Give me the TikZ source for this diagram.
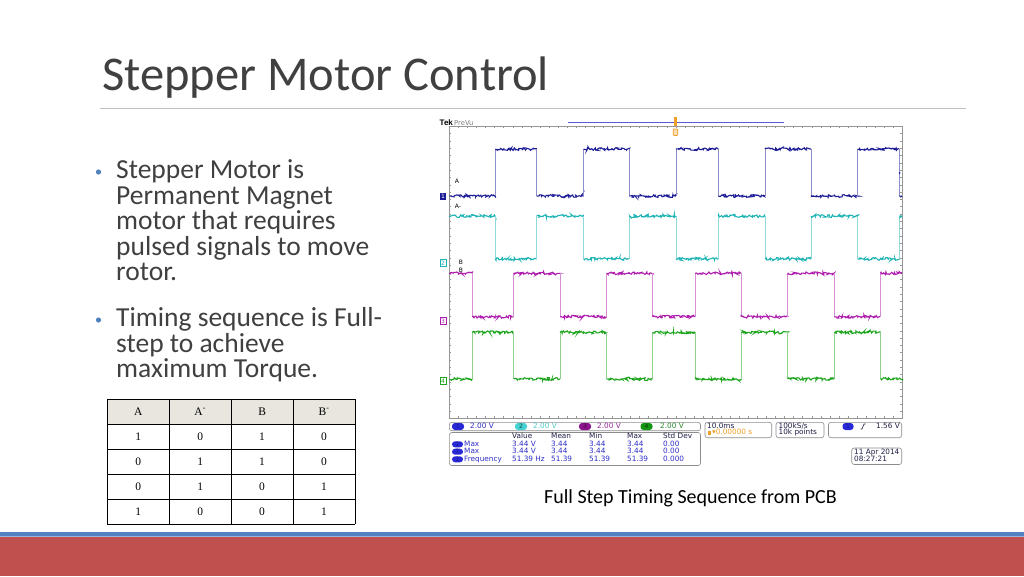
\documentclass[tikz,border=0pt]{standalone}
\usepackage{fontspec}
\setmainfont{Carlito}
\newfontfamily\tablefont{Liberation Serif}
\newfontfamily\scopefont{DejaVu Sans}
\newfontfamily\tekfont{Liberation Sans}
\usetikzlibrary{decorations.pathmorphing}

\definecolor{bodygray}{RGB}{64,64,64}
\definecolor{sepgray}{RGB}{191,191,191}
\definecolor{bulletblue}{RGB}{79,129,189}
\definecolor{barblue}{RGB}{84,130,192}
\definecolor{barline}{RGB}{150,180,220}
\definecolor{barred}{RGB}{192,80,77}
\definecolor{headfill}{RGB}{232,230,223}
\definecolor{framegray}{RGB}{150,150,150}
\definecolor{boxgray}{RGB}{140,140,140}
\definecolor{trA}{RGB}{28,28,150}
\definecolor{trAn}{RGB}{30,180,180}
\definecolor{trB}{RGB}{175,30,175}
\definecolor{trBn}{RGB}{30,165,30}
\definecolor{chipA}{RGB}{40,40,215}
\definecolor{chipAn}{RGB}{70,210,210}
\definecolor{chipB}{RGB}{140,20,140}
\definecolor{chipBn}{RGB}{20,150,20}
\definecolor{valblue}{RGB}{45,45,200}
\definecolor{valcyan}{RGB}{80,200,200}
\definecolor{valpurple}{RGB}{150,40,150}
\definecolor{valgreen}{RGB}{40,140,40}
\definecolor{navytext}{RGB}{30,30,70}
\definecolor{trigorange}{RGB}{240,160,40}
\definecolor{recblue}{RGB}{90,90,210}

\begin{document}
\begin{tikzpicture}[x=1pt, y=-1pt,
    txt/.style={inner sep=0, anchor=base west},
    bodytext/.style={txt, font=\fontsize{27.5}{30}\selectfont, text=bodygray},
    tabcell/.style={inner sep=0, font=\tablefont\fontsize{11.5}{12}\selectfont},
    scopetext/.style={inner sep=0, anchor=west, text height=5.3pt, text depth=1.4pt,
        font=\scopefont\fontsize{7.3}{7.3}\selectfont},
    chip/.style={inner sep=0, rounded corners=3pt, minimum width=12pt, minimum height=7pt,
        font=\scopefont\fontsize{6}{6}\selectfont},
    chmark/.style={inner sep=0.6pt, minimum width=6pt, minimum height=7pt,
        font=\scopefont\fontsize{6}{6}\selectfont},
    lbl/.style={inner sep=0, font=\scopefont\fontsize{6}{6}\selectfont},
    infobox/.style={draw=boxgray, line width=0.6pt, rounded corners=2.5pt},
    gridtick/.style={draw=framegray, line width=0.4pt},
    wavetop/.style={line width=1.1pt, decorate,
        decoration={random steps, segment length=1pt, amplitude=1.4pt}},
    waveedge/.style={line width=0.5pt}]

\useasboundingbox (0,0) rectangle (1024,576);
\fill[white] (0,0) rectangle (1024,576);
\pgfmathsetseed{11}

% title and rule
\node[txt, font=\fontsize{48.5}{50}\selectfont, text=bodygray] (title) at (102,90) {Stepper Motor Control};
\draw[sepgray, line width=0.8pt] (100,108) -- (966,108);

% bullets
\fill[bulletblue] (98.5,172) circle (2.6);
\fill[bulletblue] (98.5,320) circle (2.6);
\foreach \yl/\txt [count=\n] in {178.5/Stepper Motor is, 204/Permanent Magnet,
    229.5/motor that requires, 255/pulsed signals to move, 280.5/rotor.,
    326.5/Timing sequence is Full-, 352/step to achieve, 377.5/maximum Torque.}
  \node[bodytext] (line\n) at (116,\yl) {\txt};

% table
\fill[headfill] (107.3,399) rectangle (355,424);
\foreach \i in {0,...,5}
  \draw[line width=0.8pt] (107.3,399+25*\i) -- (355,399+25*\i);
\foreach \j in {0,...,4}
  \draw[line width=0.8pt] (107.3+61.925*\j,399) -- (107.3+61.925*\j,524);
\foreach \r/\ca/\cb/\cc/\cd in {0/A/A\textsuperscript{-}/B/B\textsuperscript{-},
    1/1/0/1/0, 2/0/1/1/0, 3/0/1/0/1, 4/1/0/0/1}
{
  \node[tabcell] (c\r a) at (138.3,411.5+25*\r) {\ca};
  \node[tabcell] (c\r b) at (200.2,411.5+25*\r) {\cb};
  \node[tabcell] (c\r c) at (262.1,411.5+25*\r) {\cc};
  \node[tabcell] (c\r d) at (324.0,411.5+25*\r) {\cd};
}

% scope header
\node[txt, font=\tekfont\bfseries\fontsize{8}{8}\selectfont] (tek) at (439.5,125.5) {Tek};
\node[txt, text=gray, font=\scopefont\fontsize{6.8}{7}\selectfont] (prevu) at (454,125) {PreVu};
\draw[recblue, line width=0.6pt] (568,122.3) -- (784.3,122.3);
\fill[trigorange] (674,117) rectangle (677,127);
\draw[trigorange, line width=0.8pt, fill=trigorange!35, rounded corners=1pt] (673.2,129) rectangle (677.8,135.5);

% graticule
\draw[framegray, line width=0.6pt] (449.3,126.3) rectangle (902,418);
\foreach \i in {1,...,49} {
  \draw[gridtick] (449.3+\i*9.06,126.3) -- ++(0,2);
  \draw[gridtick] (449.3+\i*9.06,418) -- ++(0,-2);
}
\foreach \j in {1,...,39} {
  \draw[gridtick] (449.3,126.3+\j*7.3) -- ++(2,0);
  \draw[gridtick] (902,126.3+\j*7.3) -- ++(-2,0);
}

% traces
\foreach \tr/\ya/\yb/\edges in {
    trA/196/149/{495.3,536.7,583.7,629.3,676,718.3,765,811,857.7,899.3,902},
    trAn/216/259/{495.3,536.7,583.7,629.3,676,718.3,765,811,857.7,899.3,902},
    trB/273.3/316.7/{472,513.7,560,606.7,652.7,695,741,787.7,834.3,880.3,902},
    trBn/379/332.3/{472,513.7,560,606.7,652.7,695,741,787.7,834.3,880.3,902}}
{
  \foreach \e [count=\k, remember=\e as \p (initially 449.3)] in \edges {
    \pgfmathsetmacro\yy{isodd(\k) ? \ya : \yb}
    \pgfmathsetmacro\yo{isodd(\k) ? \yb : \ya}
    \ifnum\k>1 \draw[waveedge, draw=\tr!50] (\p,\yo) -- (\p,\yy); \fi
    \draw[wavetop, draw=\tr] (\p,\yy) -- (\e,\yy);
  }
}
\fill[trA] (899.5,173) circle (1);

% channel markers and labels
\node[chmark, fill=trA, text=white] (m1) at (443,196) {1};
\node[chmark, draw=trAn, text=trAn] (m2) at (443,263) {2};
\node[chmark, draw=trB, text=trB] (m3) at (443,321) {3};
\node[chmark, draw=trBn, text=trBn] (m4) at (443,381) {4};
\node[lbl] (la) at (457,181) {A};
\node[lbl] (lan) at (458,206.5) {A-};
\node[lbl] (lb) at (461,262) {B};
\node[lbl] (lbb) at (461,270.5) {B};

% vertical scales
\draw[infobox] (449.3,422.3) rectangle (700.5,430.7);
\node[chip, fill=chipA, text=trA] (s1) at (458,426.5) {1};
\node[chip, fill=chipAn, text=trAn!40!black] (s2) at (521,426.5) {2};
\node[chip, fill=chipB, text=trB!40!black] (s3) at (585,426.5) {3};
\node[chip, fill=chipBn, text=trBn!40!black] (s4) at (646.5,426.5) {4};
\node[scopetext, text=valblue] (v1) at (470,426.5) {2.00 V};
\node[scopetext, text=valcyan] (v2) at (533,426.5) {2.00 V};
\node[scopetext, text=valpurple] (v3) at (597,426.5) {2.00 V};
\node[scopetext, text=valgreen] (v4) at (660,426.5) {2.00 V};

% measurements
\draw[infobox] (449.3,432.5) rectangle (700.5,465.5);
\foreach \x/\h in {512/Value, 551/Mean, 589/Min, 627/Max, 663/Std Dev}
  \node[scopetext, text=navytext] (h\x) at (\x,436.7) {\h};
\foreach \y/\name/\va/\vb/\vc/\vd/\ve [count=\r] in {
    444.3/Max/3.44 V/3.44/3.44/3.44/0.00,
    451.7/Max/3.44 V/3.44/3.44/3.44/0.00,
    459.3/Frequency/51.39 Hz/51.39/51.39/51.39/0.000}
{
  \node[chip, fill=chipA, text=trA, minimum width=11pt, minimum height=6pt] (r\r) at (457.5,\y) {1};
  \node[scopetext, text=valblue] (n\r) at (464,\y) {\name};
  \node[scopetext, text=valblue] (a\r) at (512,\y) {\va};
  \node[scopetext, text=valblue] (b\r) at (551,\y) {\vb};
  \node[scopetext, text=valblue] (c\r) at (589,\y) {\vc};
  \node[scopetext, text=valblue] (d\r) at (627,\y) {\vd};
  \node[scopetext, text=valblue] (e\r) at (663,\y) {\ve};
}

% timebase, sampling, trigger, date
\draw[infobox] (705,422.3) rectangle (771.7,437.7);
\node[scopetext, text=navytext] (tb) at (707,426.5) {10.0ms};
\fill[trigorange] (707.5,431.2) rectangle (711,434.8);
\node[scopetext, text=trigorange] (tpos) at (712,433) {▾0.00000 s};
\draw[infobox] (776,422.3) rectangle (824,437.7);
\node[scopetext, text=navytext] (sr) at (778.5,426.5) {100kS/s};
\node[scopetext, text=navytext] (pts) at (778.5,433) {10k points};
\draw[infobox] (828.5,422.3) rectangle (901.7,437.7);
\node[chip, fill=chipA, text=trA, minimum width=11pt] (t1) at (848,426.5) {1};
\draw[navytext, line width=0.6pt] (860.5,429) -- (862,429) -- (864,424) -- (865.5,424);
\node[scopetext, text=navytext] (tl) at (876,426.5) {1.56 V};
\draw[infobox] (851.7,448) rectangle (901.7,464.5);
\node[scopetext, text=navytext] (dt) at (854,452.7) {11 Apr 2014};
\node[scopetext, text=navytext] (tm) at (854,459.3) {08:27:21};

% caption
\node[inner sep=0, anchor=base, font=\fontsize{20}{22}\selectfont] (caption) at (690.5,503) {Full Step Timing Sequence from PCB};

% footer bars
\fill[barblue] (0,531.5) rectangle (1024,537);
\draw[barline, line width=0.6pt] (0,536.6) -- (1024,536.6);
\fill[barred] (0,537) rectangle (1024,576);
\end{tikzpicture}
\end{document}
